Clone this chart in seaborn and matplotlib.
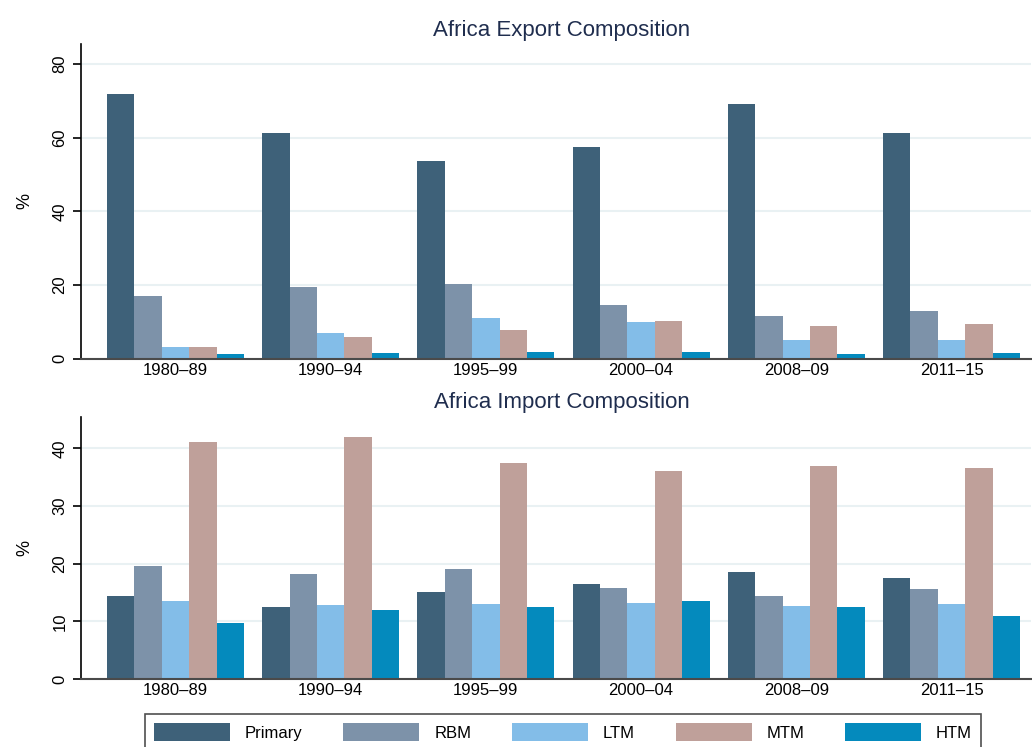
import matplotlib
matplotlib.use("Agg")
import matplotlib.pyplot as plt
from matplotlib.patches import Patch
import seaborn as sns
import pandas as pd

periods = ["1980\u201389", "1990\u201394", "1995\u201399", "2000\u201304", "2008\u201309", "2011\u201315"]
groups = ["Primary", "RBM", "LTM", "MTM", "HTM"]

export_primary = [71.9, 61.3, 53.7, 57.5, 69.2, 61.3]
export_rbm = [17.0, 19.5, 20.3, 14.6, 11.6, 13.0]
export_ltm = [3.2, 7.0, 11.0, 10.0, 5.1, 5.1]
export_mtm = [3.2, 5.9, 7.8, 10.2, 8.9, 9.4]
export_htm = [1.3, 1.5, 1.8, 1.9, 1.3, 1.5]

import_primary = [14.4, 12.5, 15.1, 16.5, 18.6, 17.5]
import_rbm = [19.6, 18.2, 19.1, 15.8, 14.4, 15.6]
import_ltm = [13.5, 12.8, 13.0, 13.2, 12.7, 13.0]
import_mtm = [41.1, 42.0, 37.5, 36.1, 36.9, 36.6]
import_htm = [9.7, 12.0, 12.5, 13.5, 12.5, 10.9]

colors = ["#3e6179", "#7d92a9", "#83bde8", "#bfa09a", "#048abd"]


def long_frame(series):
    rows = []
    for g, vals in zip(groups, series):
        for p, v in zip(periods, vals):
            rows.append({"period": p, "group": g, "value": v})
    return pd.DataFrame(rows)


exports = long_frame([export_primary, export_rbm, export_ltm, export_mtm, export_htm])
imports = long_frame([import_primary, import_rbm, import_ltm, import_mtm, import_htm])

sns.set_theme(style="white")
plt.rcParams["font.family"] = ["Liberation Sans", "DejaVu Sans"]
plt.rcParams["text.color"] = "black"
plt.rcParams["axes.labelcolor"] = "black"
plt.rcParams["xtick.color"] = "black"
plt.rcParams["ytick.color"] = "black"

fig = plt.figure(figsize=(10.32, 7.47), dpi=100)
ax_top = fig.add_axes([0.0788, 0.5198, 0.9202, 0.4213])
ax_bot = fig.add_axes([0.0788, 0.0910, 0.9202, 0.3512])

title_color = "#1f2d4e"
grid_color = "#e9f1f3"


def draw(ax, df, title, ymax, yticks):
    sns.barplot(data=df, x="period", y="value", hue="group", hue_order=groups,
                order=periods, palette=colors, saturation=1, width=0.883,
                linewidth=0, errorbar=None, legend=False, ax=ax, zorder=2)
    ax.set_xlim(-0.607, 5.512)
    ax.set_ylim(0, ymax)
    ax.set_yticks(yticks)
    ax.set_yticklabels([str(t) for t in yticks], rotation=90, va="center",
                       fontsize=12)
    ax.tick_params(axis="y", direction="out", length=6, width=1.2,
                   color="black", labelcolor="black", pad=4, left=True)
    ax.tick_params(axis="x", length=0, labelsize=12, labelcolor="black", pad=3)
    ax.set_xlabel("")
    ax.set_ylabel("%", fontsize=13, labelpad=14, color="black")
    ax.set_title(title, fontsize=16, color=title_color, pad=6, x=0.506)
    ax.yaxis.grid(True, color=grid_color, linewidth=1.5, zorder=0)
    ax.set_axisbelow(True)
    for side in ["top", "right"]:
        ax.spines[side].set_visible(False)
    ax.spines["left"].set_color("black")
    ax.spines["left"].set_linewidth(1.2)
    ax.spines["bottom"].set_color("#4a4a4a")
    ax.spines["bottom"].set_linewidth(1.5)


draw(ax_top, exports, "Africa Export Composition", 85.5, [0, 20, 40, 60, 80])
draw(ax_bot, imports, "Africa Import Composition", 45.5, [0, 10, 20, 30, 40])

handles = [Patch(facecolor=c, edgecolor="none", label=g) for g, c in zip(groups, colors)]
leg = fig.legend(handles=handles, loc="upper center", ncol=5,
                 bbox_to_anchor=(563 / 1032, 1 - 714 / 747),
                 frameon=True, fancybox=False, fontsize=12,
                 handlelength=4.55, handleheight=1.3, handletextpad=0.9,
                 columnspacing=2.45, borderpad=0.55, borderaxespad=0)
leg.get_frame().set_edgecolor("#222222")
leg.get_frame().set_linewidth(1.2)

fig.savefig("out.png", dpi=100)
